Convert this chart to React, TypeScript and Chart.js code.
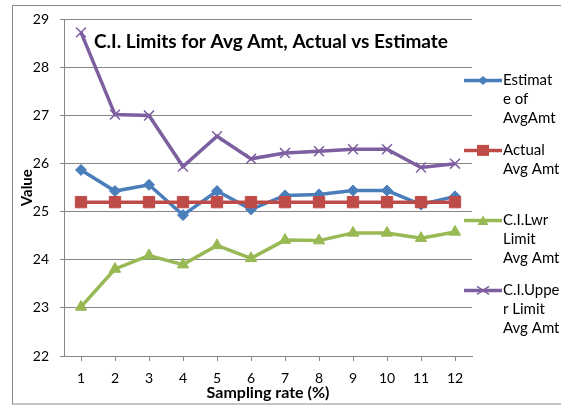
import React, { useEffect, useRef } from 'react';
import { Chart, registerables } from 'chart.js';

Chart.register(...registerables);

const categories = ['1', '2', '3', '4', '5', '6', '7', '8', '9', '10', '11', '12'];
const estimateOfAvgAmt = [25.87, 25.43, 25.56, 24.93, 25.43, 25.05, 25.34, 25.36, 25.44, 25.44, 25.15, 25.32];
const actualAvgAmt = [25.2, 25.2, 25.2, 25.2, 25.2, 25.2, 25.2, 25.2, 25.2, 25.2, 25.2, 25.2];
const ciLowerLimit = [23.02, 23.81, 24.09, 23.9, 24.3, 24.03, 24.41, 24.4, 24.56, 24.56, 24.45, 24.58];
const ciUpperLimit = [28.73, 27.02, 27.0, 25.94, 26.57, 26.1, 26.22, 26.26, 26.3, 26.3, 25.92, 26.0];

const yMin = 22;
const yMax = 29;
const yStep = 1;

const chartTitle = 'C.I. Limits for Avg Amt, Actual vs Estimate';
const xAxisTitle = 'Sampling rate (%)';
const yAxisTitle = 'Value';
const seriesNames = ['Estimate of AvgAmt', 'Actual Avg Amt', 'C.I.Lwr Limit Avg Amt', 'C.I.Upper Limit Avg Amt'];
const legendLines = [
  ['Estimat', 'e of', 'AvgAmt'],
  ['Actual', 'Avg Amt'],
  ['C.I.Lwr', 'Limit', 'Avg Amt'],
  ['C.I.Uppe', 'r Limit', 'Avg Amt'],
];

const FONT = 'Lato, "Liberation Sans", sans-serif';
const BLUE = '#4A7EBB';
const RED = '#BE4B48';
const GREEN = '#98B954';
const PURPLE = '#7D5FA0';
const AXIS = '#868686';

function drawMarker(ctx: CanvasRenderingContext2D, style: string, x: number, y: number, color: string) {
  ctx.save();
  ctx.fillStyle = color;
  ctx.strokeStyle = color;
  ctx.beginPath();
  if (style === 'rectRot') {
    ctx.moveTo(x - 5, y);
    ctx.lineTo(x, y - 4.5);
    ctx.lineTo(x + 5, y);
    ctx.lineTo(x, y + 4.5);
    ctx.closePath();
    ctx.fill();
  } else if (style === 'rect') {
    ctx.rect(x - 6, y - 5.5, 12, 11);
    ctx.fill();
  } else if (style === 'triangle') {
    ctx.moveTo(x - 5.5, y + 4.5);
    ctx.lineTo(x, y - 5);
    ctx.lineTo(x + 5.5, y + 4.5);
    ctx.closePath();
    ctx.fill();
  } else {
    ctx.lineWidth = 1.5;
    ctx.moveTo(x - 6, y - 4);
    ctx.lineTo(x + 6, y + 4);
    ctx.moveTo(x - 6, y + 4);
    ctx.lineTo(x + 6, y - 4);
    ctx.stroke();
  }
  ctx.restore();
}

const overlayPlugin = {
  id: 'excelOverlay',
  beforeDraw(chart: any) {
    const { ctx } = chart;
    ctx.save();
    ctx.fillStyle = '#ffffff';
    ctx.fillRect(0, 0, chart.width, chart.height);
    ctx.strokeStyle = '#8a8a8a';
    ctx.lineWidth = 1;
    ctx.strokeRect(12.5, 5.5, 700, 398.5);
    ctx.restore();
  },
  afterDraw(chart: any) {
    const { ctx, chartArea } = chart;
    ctx.save();
    ctx.font = `bold 19px ${FONT}`;
    ctx.fillStyle = '#000';
    ctx.textAlign = 'center';
    ctx.textBaseline = 'middle';
    ctx.fillText(chartTitle, (chartArea.left + chartArea.right) / 2 + 3, chartArea.top + 22);

    const lx = chartArea.right - 8;
    const styles = ['rectRot', 'rect', 'triangle', 'crossRot'];
    chart.data.datasets.forEach((ds: any, i: number) => {
      const y0 = chartArea.top + 61 + i * 70;
      ctx.strokeStyle = ds.borderColor;
      ctx.lineWidth = 3.5;
      ctx.beginPath();
      ctx.moveTo(lx, y0);
      ctx.lineTo(lx + 38, y0);
      ctx.stroke();
      drawMarker(ctx, styles[i], lx + 19, y0, ds.borderColor);
      ctx.font = `15px ${FONT}`;
      ctx.fillStyle = '#000';
      ctx.textAlign = 'left';
      ctx.textBaseline = 'middle';
      legendLines[i].forEach((line, j) => {
        ctx.fillText(line, lx + 39, y0 + j * 18.7);
      });
    });
    ctx.restore();
  },
};

export default function App() {
  const canvasRef = useRef<HTMLCanvasElement | null>(null);

  useEffect(() => {
    const canvas = canvasRef.current;
    if (!canvas) return;
    const chart = new Chart(canvas, {
      type: 'line',
      data: {
        labels: categories,
        datasets: [
          {
            label: seriesNames[0],
            data: estimateOfAvgAmt,
            borderColor: BLUE,
            backgroundColor: BLUE,
            borderWidth: 3.5,
            pointStyle: 'rectRot',
            pointRadius: 5.5,
            pointBorderWidth: 1,
            order: 3,
          },
          {
            label: seriesNames[1],
            data: actualAvgAmt,
            borderColor: RED,
            backgroundColor: RED,
            borderWidth: 3.5,
            pointStyle: 'rect',
            pointRadius: 8,
            pointBorderWidth: 1,
            order: 2,
          },
          {
            label: seriesNames[2],
            data: ciLowerLimit,
            borderColor: GREEN,
            backgroundColor: GREEN,
            borderWidth: 3.5,
            pointStyle: 'triangle',
            pointRadius: 6.5,
            pointBorderWidth: 1,
            order: 1,
          },
          {
            label: seriesNames[3],
            data: ciUpperLimit,
            borderColor: PURPLE,
            backgroundColor: PURPLE,
            borderWidth: 3.5,
            pointStyle: 'crossRot',
            pointRadius: 7,
            pointBorderWidth: 1.5,
            order: 0,
          },
        ],
      },
      options: {
        responsive: false,
        animation: false,
        layout: { padding: { top: 16, right: 89, bottom: 0, left: 0 } },
        plugins: {
          legend: { display: false },
          title: { display: false },
          tooltip: { enabled: false },
        },
        elements: { line: { tension: 0 } },
        scales: {
          x: {
            type: 'category',
            offset: true,
            grid: { display: true, drawOnChartArea: false, drawTicks: true, tickLength: 5, color: AXIS },
            border: { display: true, color: AXIS, width: 1 },
            ticks: { color: '#000', font: { family: FONT, size: 14 }, padding: 9, maxRotation: 0, autoSkip: false },
            title: {
              display: true,
              text: xAxisTitle,
              color: '#000',
              font: { family: FONT, size: 16, weight: 'bold' },
              padding: { top: 0, bottom: 5 },
            },
            afterFit: (s: any) => {
              s.height = 51;
            },
          },
          y: {
            min: yMin,
            max: yMax,
            grid: { color: AXIS, tickLength: 4 },
            border: { display: true, color: AXIS, width: 1 },
            ticks: { stepSize: yStep, color: '#000', font: { family: FONT, size: 14 }, padding: 11 },
            title: {
              display: true,
              text: yAxisTitle,
              color: '#000',
              font: { family: FONT, size: 15, weight: 'bold' },
              padding: { top: 18, bottom: 0 },
            },
            afterFit: (s: any) => {
              s.width = 64;
            },
          },
        },
      },
      plugins: [overlayPlugin],
    } as any);
    return () => chart.destroy();
  }, []);

  return (
    <div style={{ position: 'absolute', left: 0, top: 0, width: 561, height: 407 }}>
      <canvas ref={canvasRef} width={561} height={407} />
    </div>
  );
}
